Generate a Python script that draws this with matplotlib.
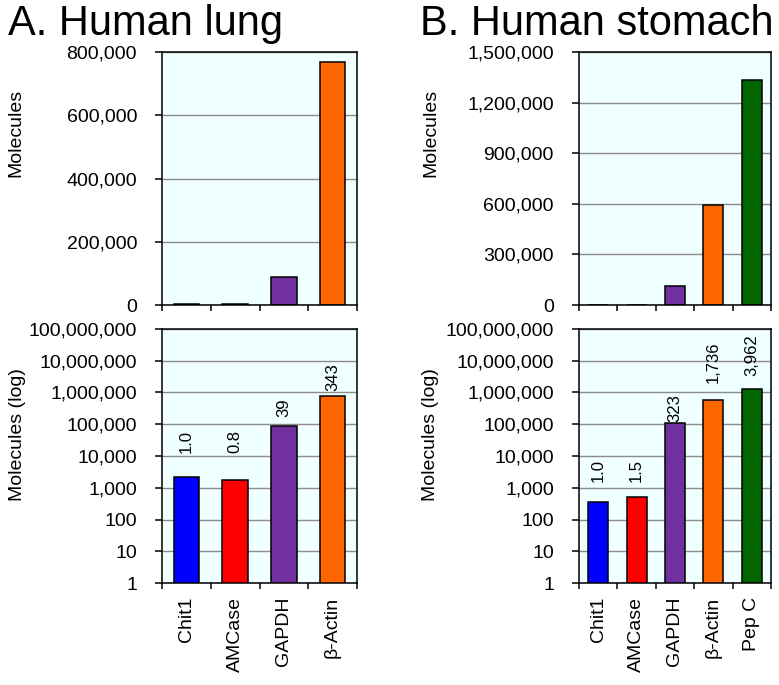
import matplotlib
matplotlib.use('Agg')
import matplotlib.pyplot as plt
from matplotlib.ticker import FuncFormatter, FixedLocator, NullLocator
import numpy as np

plt.rcParams['font.family'] = ['Liberation Sans', 'DejaVu Sans']

# data
lung_genes = ['Chit1', 'AMCase', 'GAPDH', 'β-Actin']
lung_molecules = [2230, 1780, 87500, 767000]
lung_ratios = ['1.0', '0.8', '39', '343']

stomach_genes = ['Chit1', 'AMCase', 'GAPDH', 'β-Actin', 'Pep C']
stomach_molecules = [345, 515, 110000, 590000, 1335000]
stomach_ratios = ['1.0', '1.5', '323', '1,736', '3,962']

lung_lin_ticks = [0, 200000, 400000, 600000, 800000]
stomach_lin_ticks = [0, 300000, 600000, 900000, 1200000, 1500000]
log_ticks = [1, 10, 100, 1000, 10000, 100000, 1000000, 10000000, 100000000]

colors = ['#0000FF', '#FF0000', '#7030A0', '#FF6600', '#006600']
bg = '#F0FFFF'
grid_col = '#8C8C8C'

comma = FuncFormatter(lambda v, p: '{:,.0f}'.format(v))

fig = plt.figure(figsize=(7.79, 6.85), dpi=100)
W, H = 779, 685


def px_axes(x0, x1, ytop, ybot):
    return fig.add_axes([x0 / W, 1 - ybot / H, (x1 - x0) / W, (ybot - ytop) / H])


def style(ax, n):
    ax.set_facecolor(bg)
    for s in ax.spines.values():
        s.set_linewidth(1.1)
    ax.set_xlim(-0.5, n - 0.5)
    ax.xaxis.set_major_locator(FixedLocator(np.arange(n + 1) - 0.5))
    ax.xaxis.set_minor_locator(NullLocator())
    ax.tick_params(axis='x', which='major', length=4, width=1.1, labelbottom=False)
    ax.tick_params(axis='y', length=5, width=1.1, labelsize=14, pad=13)
    ax.yaxis.grid(True, color=grid_col, linewidth=1.0)
    ax.set_axisbelow(True)


def place_ylabel(ax, text, xc, yc):
    ax.set_ylabel(text, fontsize=14, va='center')
    ax.yaxis.set_label_coords(xc, yc)


def top_panel(x0, x1, vals, ticks, xc):
    ax = px_axes(x0, x1, 52, 305)
    n = len(vals)
    style(ax, n)
    ax.bar(np.arange(n), vals, width=0.52, color=colors[:n], edgecolor='black', linewidth=1.1)
    ax.set_ylim(ticks[0], ticks[-1])
    ax.set_yticks(ticks)
    ax.yaxis.set_major_formatter(comma)
    place_ylabel(ax, 'Molecules', xc, 0.68)
    return ax


def log_panel(x0, x1, vals, genes, ratios, offs, xc):
    ax = px_axes(x0, x1, 329, 583)
    n = len(vals)
    style(ax, n)
    ax.set_yscale('log')
    ax.bar(np.arange(n), vals, width=0.52, color=colors[:n], edgecolor='black', linewidth=1.1)
    ax.set_ylim(1, 1e8)
    ax.yaxis.set_major_locator(FixedLocator(log_ticks))
    ax.yaxis.set_minor_locator(NullLocator())
    ax.yaxis.set_major_formatter(comma)
    place_ylabel(ax, 'Molecules (log)', xc, 0.584)
    for i, (v, r) in enumerate(zip(vals, ratios)):
        ax.annotate(r, (i, v), xytext=(0, offs[i] * 0.72), textcoords='offset points',
                    rotation=90, ha='center', va='bottom', fontsize=12)
    for i, g in enumerate(genes):
        ax.annotate(g, (i, 1), xytext=(0, -10), textcoords='offset points',
                    rotation=90, ha='center', va='top', fontsize=14,
                    annotation_clip=False)
    return ax


top_panel(162, 357, lung_molecules, lung_lin_ticks, -0.749)
log_panel(162, 357, lung_molecules, lung_genes, lung_ratios, [24, 27, 9, 5], -0.741)
top_panel(579, 771, stomach_molecules, stomach_lin_ticks, -0.771)
log_panel(579, 771, stomach_molecules, stomach_genes, stomach_ratios, [20, 15, 1, 17, 13], -0.771)

fig.text(8 / W, 1 - 35 / H, 'A. Human lung', fontsize=30, va='baseline', ha='left')
fig.text(420 / W, 1 - 35 / H, 'B. Human stomach', fontsize=30, va='baseline', ha='left')

fig.savefig('out.png', dpi=100)
